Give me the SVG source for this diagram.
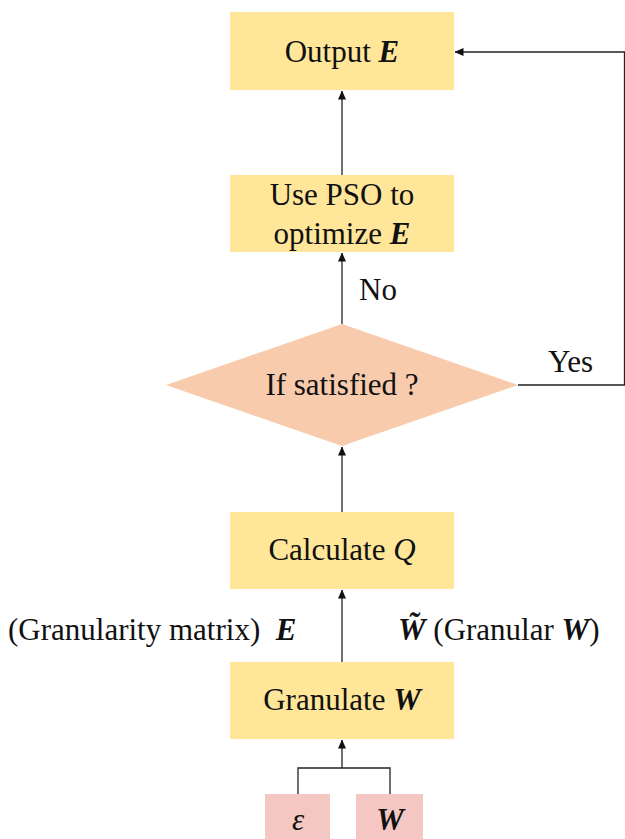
<svg xmlns="http://www.w3.org/2000/svg" width="625" height="839" viewBox="0 0 625 839" font-family="'Times New Roman', 'Liberation Serif', serif">
<defs>
<marker id="arr" markerWidth="9" markerHeight="8" refX="8.5" refY="4" orient="auto" markerUnits="userSpaceOnUse">
<path d="M0,0 L9,4 L0,8 z" fill="#111"/>
</marker>
<style>
.box{fill:#FFE699;}
.dia{fill:#F8CBAD;}
.pink{fill:#F4C7C3;}
text{font-family:'Times New Roman','Liberation Serif',serif;font-size:31px;fill:#111;}
.c{text-anchor:middle;}
.bi{font-weight:bold;font-style:italic;}
.i{font-style:italic;}
.ln{fill:none;stroke:#222;stroke-width:1.3;}
</style>
</defs>
<rect width="625" height="839" fill="#fff"/>
<g id="connectors">
<line class="ln" x1="342" y1="175" x2="342" y2="91" marker-end="url(#arr)"/>
<line class="ln" x1="342" y1="324" x2="342" y2="253" marker-end="url(#arr)"/>
<line class="ln" x1="342" y1="512" x2="342" y2="447" marker-end="url(#arr)"/>
<line class="ln" x1="342" y1="662" x2="342" y2="590" marker-end="url(#arr)"/>
<polyline class="ln" points="298,794 298,768 390,768 390,794"/>
<line class="ln" x1="342" y1="768" x2="342" y2="740" marker-end="url(#arr)"/>
<polyline class="ln" points="518,385 624.5,385 624.5,52 455,52" marker-end="url(#arr)"/>
<text x="359" y="300">No</text>
<text x="548" y="372">Yes</text>
<text x="8" y="640" xml:space="preserve">(Granularity matrix)  <tspan class="bi">E</tspan></text>
<text x="398" y="640"><tspan class="bi">W̃</tspan> (Granular <tspan class="bi">W</tspan>)</text>
</g>
<g id="output">
<rect class="box" x="230" y="12" width="224" height="78"/>
<text class="c" x="342" y="62">Output <tspan class="bi">E</tspan></text>
</g>
<g id="pso">
<rect class="box" x="230" y="175" width="224" height="77"/>
<text class="c" x="342" y="205">Use PSO to</text>
<text class="c" x="342" y="244">optimize <tspan class="bi">E</tspan></text>
</g>
<g id="decision">
<polygon class="dia" points="342,324 518,385 342,446 166,385"/>
<text class="c" x="342" y="395">If satisfied ?</text>
</g>
<g id="calculate">
<rect class="box" x="230" y="512" width="224" height="77"/>
<text class="c" x="342" y="560">Calculate <tspan class="i">Q</tspan></text>
</g>
<g id="granulate">
<rect class="box" x="230" y="662" width="224" height="77"/>
<text class="c" x="342" y="710">Granulate <tspan class="bi">W</tspan></text>
</g>
<g id="epsilon">
<rect class="pink" x="265" y="794" width="65" height="45"/>
<text class="c i" x="298" y="830">ε</text>
</g>
<g id="w">
<rect class="pink" x="356" y="794" width="67" height="45"/>
<text class="c bi" x="390" y="830">W</text>
</g>
</svg>
